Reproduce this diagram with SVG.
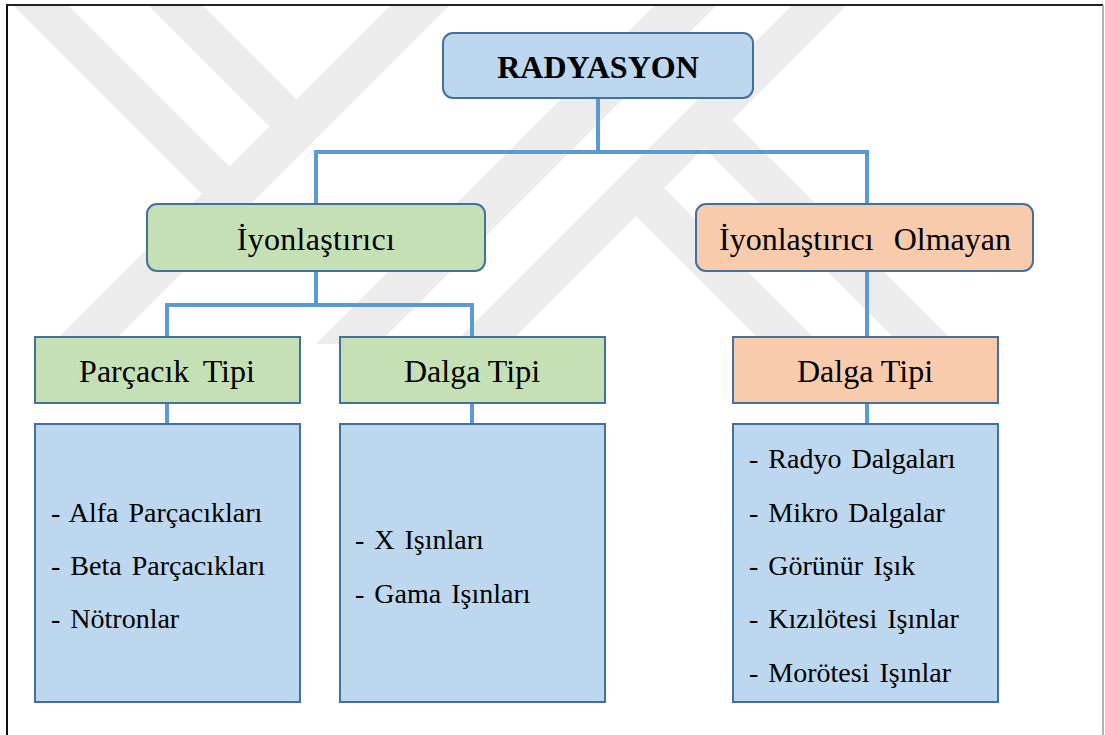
<svg xmlns="http://www.w3.org/2000/svg" width="1105" height="735" viewBox="0 0 1105 735">
  <defs>
    <clipPath id="wmclip">
      <rect x="8" y="6" width="1094" height="338"/>
    </clipPath>
    <style>
      .wm { fill: #ececec; }
      .conn { stroke: #5b9bd5; stroke-width: 4; fill: none; }
      .box { stroke: #41719c; stroke-width: 2; }
      .blue { fill: #bdd7ee; }
      .green { fill: #c5e0b4; }
      .orange { fill: #f8cbad; }
      .t { font-family: "Liberation Serif", "Times New Roman", serif; fill: #000; }
      .head { font-size: 32px; text-anchor: middle; }
      .title { font-size: 32px; font-weight: bold; text-anchor: middle; }
      .item { font-size: 28px; word-spacing: 3px; }
    </style>
  </defs>
  <rect x="0" y="0" width="1105" height="735" fill="#ffffff"/>

  <g id="watermark" clip-path="url(#wmclip)">
    <polygon class="wm" points="8,0 63,0 229.5,166.5 202,194"/>
    <polygon class="wm" points="143,0 197,0 296.5,99.5 269.5,126.5"/>
    <polygon class="wm" points="396,0 455,0 110,345 51,345"/>
    <polygon class="wm" points="660,0 722,0 377,345 315,345"/>
    <polygon class="wm" points="797,0 852,0 507,345 452,345"/>
    <polygon class="wm" points="636,216 664,188 821,345 765,345"/>
    <polygon class="wm" points="704,148 732,120 957,345 901,345"/>
  </g>

  <g id="frame">
    <line x1="7" y1="5" x2="7" y2="735" stroke="#111" stroke-width="2"/>
    <line x1="6" y1="5" x2="1103" y2="5" stroke="#222" stroke-width="2"/>
    <line x1="1103" y1="5" x2="1103" y2="735" stroke="#9a9a9a" stroke-width="1.5"/>
  </g>

  <g id="connectors">
    <polyline class="conn" points="598,98 598,152"/>
    <polyline class="conn" points="316,205 316,152 867,152 867,205"/>
    <polyline class="conn" points="316,271 316,305"/>
    <polyline class="conn" points="167,337 167,305 472,305 472,337"/>
    <polyline class="conn" points="867,271 867,337"/>
    <polyline class="conn" points="167,403 167,424"/>
    <polyline class="conn" points="472,403 472,424"/>
    <polyline class="conn" points="867,403 867,424"/>
  </g>

  <g id="node-radyasyon">
    <rect class="box blue" x="443" y="33" width="310" height="65" rx="10"/>
    <text class="t title" x="598" y="78">RADYASYON</text>
  </g>

  <g id="node-iyonlastirici">
    <rect class="box green" x="147" y="204" width="338" height="67" rx="10"/>
    <text class="t head" x="316" y="250" letter-spacing="0.3">İyonlaştırıcı</text>
  </g>

  <g id="node-iyonlastirici-olmayan">
    <rect class="box orange" x="696" y="204" width="337" height="67" rx="10"/>
    <text class="t head" x="865" y="250" word-spacing="12">İyonlaştırıcı Olmayan</text>
  </g>

  <g id="node-parcacik-tipi">
    <rect class="box green" x="35" y="337" width="265" height="66"/>
    <text class="t head" x="167" y="382" word-spacing="6">Parçacık Tipi</text>
  </g>

  <g id="node-dalga-tipi-1">
    <rect class="box green" x="340" y="337" width="265" height="66"/>
    <text class="t head" x="472" y="382">Dalga Tipi</text>
  </g>

  <g id="node-dalga-tipi-2">
    <rect class="box orange" x="733" y="337" width="265" height="66"/>
    <text class="t head" x="865" y="382">Dalga Tipi</text>
  </g>

  <g id="node-parcacik-list">
    <rect class="box blue" x="35" y="424" width="265" height="278"/>
    <text class="t item" x="51" y="522">- Alfa Parçacıkları</text>
    <text class="t item" x="51" y="575">- Beta Parçacıkları</text>
    <text class="t item" x="51" y="628">- Nötronlar</text>
  </g>

  <g id="node-dalga-list-1">
    <rect class="box blue" x="340" y="424" width="265" height="278"/>
    <text class="t item" x="355" y="549">- X Işınları</text>
    <text class="t item" x="355" y="603">- Gama Işınları</text>
  </g>

  <g id="node-dalga-list-2">
    <rect class="box blue" x="733" y="424" width="265" height="278"/>
    <text class="t item" x="749" y="468">- Radyo Dalgaları</text>
    <text class="t item" x="749" y="522">- Mikro Dalgalar</text>
    <text class="t item" x="749" y="575">- Görünür Işık</text>
    <text class="t item" x="749" y="628">- Kızılötesi Işınlar</text>
    <text class="t item" x="749" y="682">- Morötesi Işınlar</text>
  </g>
</svg>
